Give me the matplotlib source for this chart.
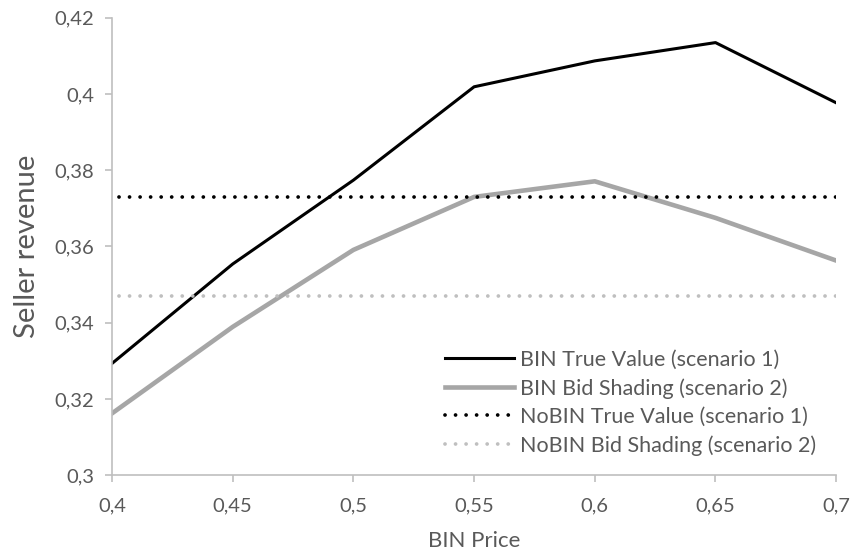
import matplotlib.pyplot as plt
from matplotlib.ticker import FuncFormatter, MultipleLocator

# data
bin_price = [0.4, 0.45, 0.5, 0.55, 0.6, 0.65, 0.7]
bin_true = [0.3293, 0.3554, 0.3774, 0.4019, 0.4087, 0.4135, 0.3977]
bin_shading = [0.3162, 0.3389, 0.3591, 0.3730, 0.3771, 0.3675, 0.3563]
nobin_true = 0.3730
nobin_shading = 0.3471

plt.rcParams['font.family'] = ['Lato', 'DejaVu Sans']

fig = plt.figure(figsize=(8.55, 5.57), dpi=100)
ax = fig.add_axes([0.131, 0.147, 0.847, 0.821])

gray = '#A6A6A6'
ax.plot(bin_price, bin_true, color='black', lw=2.2, label='BIN True Value (scenario 1)')
ax.plot(bin_price, bin_shading, color=gray, lw=3.3, label='BIN Bid Shading (scenario 2)')
ax.plot([0.403, 0.7], [nobin_true] * 2, color='black', lw=2.7,
        linestyle=(0, (0.01, 2.8)), dash_capstyle='round',
        label='NoBIN True Value (scenario 1)')
ax.plot([0.403, 0.7], [nobin_shading] * 2, color='#BFBFBF', lw=2.7,
        linestyle=(0, (0.01, 2.8)), dash_capstyle='round',
        label='NoBIN Bid Shading (scenario 2)')

ax.set_xlim(0.4, 0.7)
ax.set_ylim(0.3, 0.42)
ax.xaxis.set_major_locator(MultipleLocator(0.05))
ax.yaxis.set_major_locator(MultipleLocator(0.02))
fmt = FuncFormatter(lambda v, p: '{:g}'.format(round(v, 3)).replace('.', ','))
ax.xaxis.set_major_formatter(fmt)
ax.yaxis.set_major_formatter(fmt)

for s in ['top', 'right']:
    ax.spines[s].set_visible(False)
for s in ['left', 'bottom']:
    ax.spines[s].set_color('#BFBFBF')
    ax.spines[s].set_linewidth(1.2)
ax.tick_params(axis='both', colors='#BFBFBF', labelcolor='#595959',
               labelsize=14.5, length=5, width=1.2, direction='out')
ax.tick_params(axis='x', pad=11)
ax.tick_params(axis='y', pad=8)

ax.set_xlabel('BIN Price', fontsize=16, color='#595959', labelpad=12)
ax.set_ylabel('Seller revenue', fontsize=21, color='#595959', labelpad=10)

ax.legend(loc='lower right', bbox_to_anchor=(0.999, 0.0), frameon=False,
          fontsize=15.5, labelcolor='#595959', handlelength=3.2,
          handletextpad=0.28, labelspacing=0.38)

fig.savefig('out.png', dpi=100)
